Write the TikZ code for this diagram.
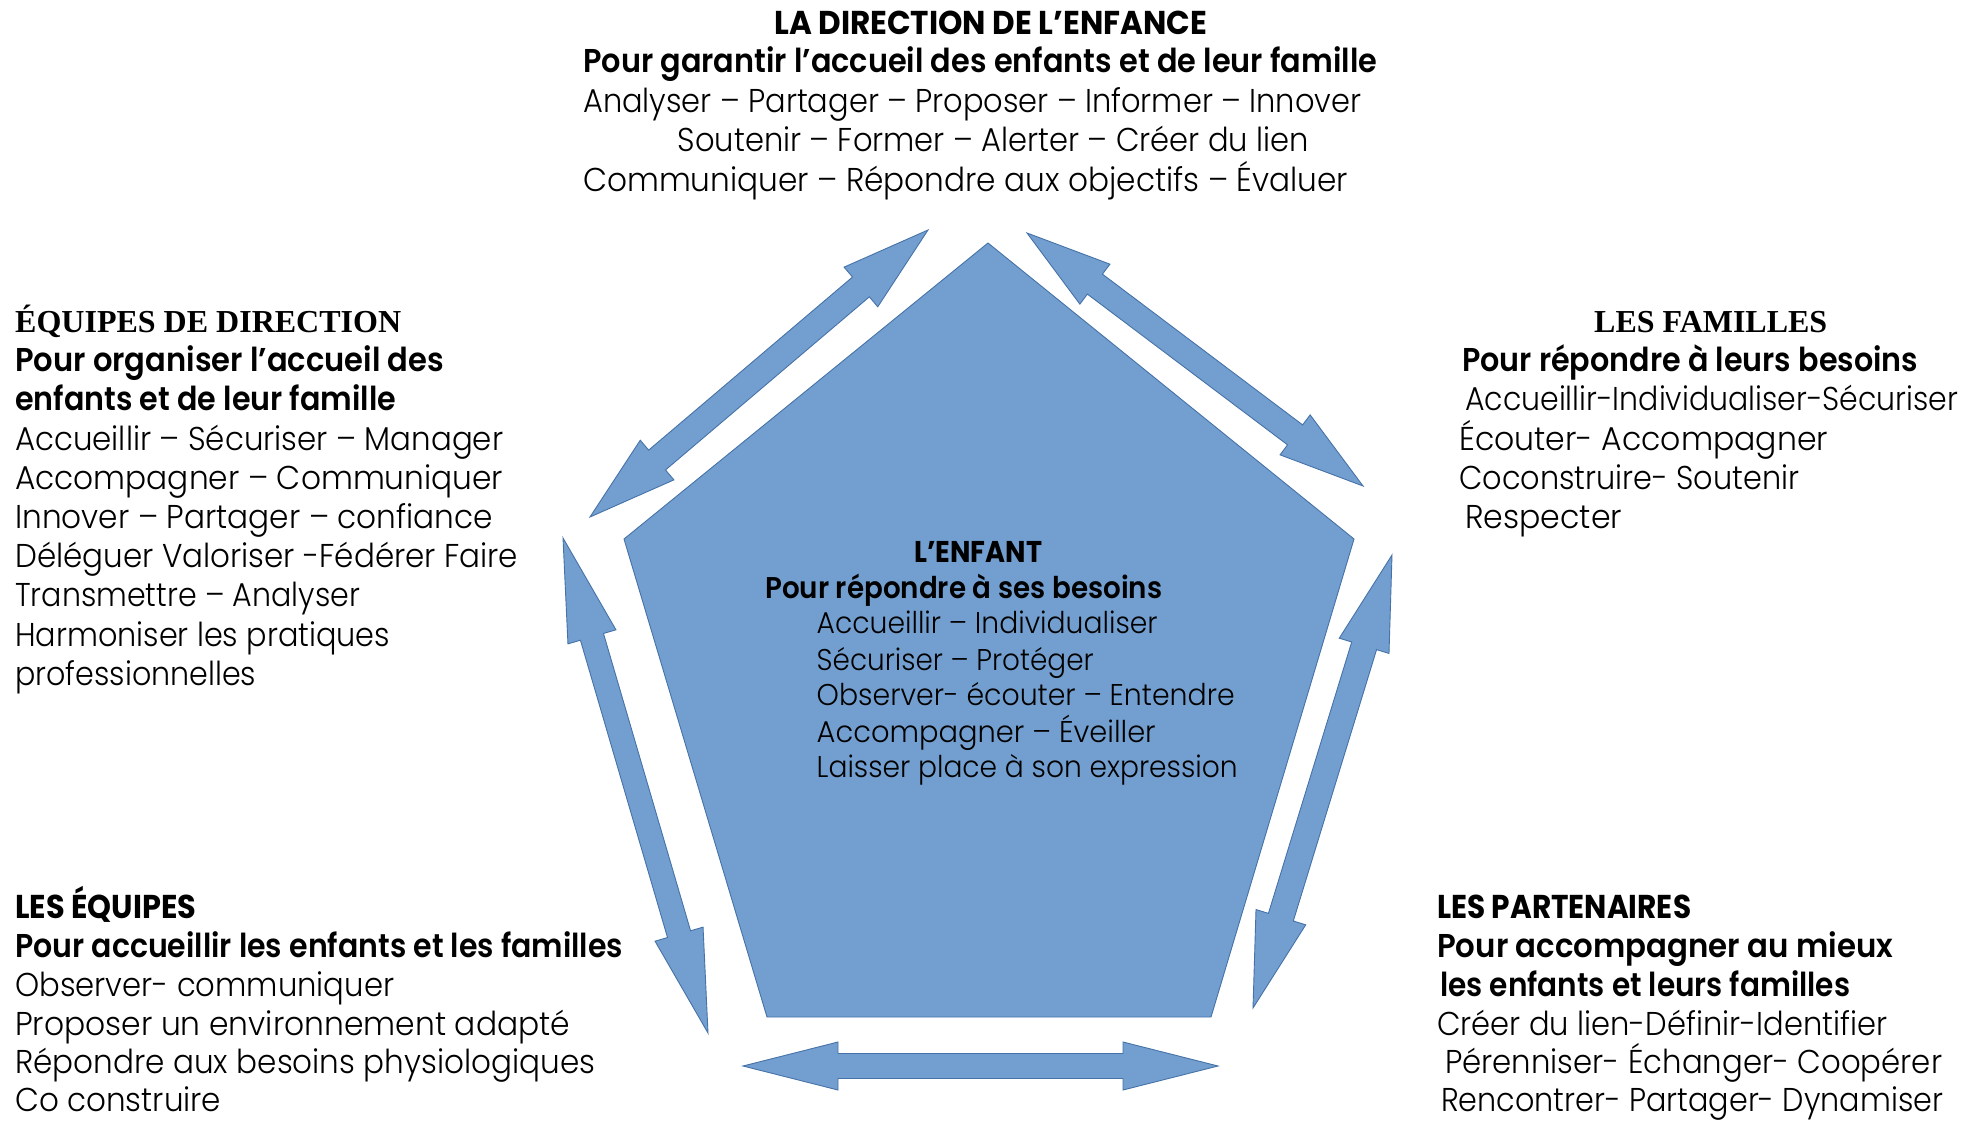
\documentclass[tikz,border=0pt]{standalone}
\usepackage{fontspec}
\usepackage{graphicx}
\IfFontExistsTF{Poppins Light}{%
  \IfFontExistsTF{Poppins SemiBold}{%
    \setmainfont{Poppins}[UprightFont={* Light},BoldFont={* SemiBold}]}{%
    \setmainfont{Poppins}[UprightFont={* Light}]}}{%
  \setmainfont{Poppins}}
\newfontfamily\capsfont{Poppins}
\newfontfamily\timesfont{Liberation Serif}
\usetikzlibrary{calc}
\definecolor{pfill}{RGB}{114,159,207}
\definecolor{pline}{RGB}{70,114,168}
\newsavebox\fwbox
\newlength\fwlen
\newcommand\fw[2]{\sbox\fwbox{#2}\setlength\fwlen{\wd\fwbox}\pgfmathsetmacro\fwfac{#1/\fwlen}\scalebox{\fwfac}[1]{\usebox\fwbox}}
\newcommand\dblarrow[5]{%
  \filldraw[arr] (#1)
   -- ($(#1)!#3!(#2)!#4!90:(#1)$)
   -- ($(#1)!#3!(#2)!#5!90:(#1)$)
   -- ($(#2)!#3!(#1)!#5!-90:(#2)$)
   -- ($(#2)!#3!(#1)!#4!-90:(#2)$)
   -- (#2)
   -- ($(#2)!#3!(#1)!#4!90:(#2)$)
   -- ($(#2)!#3!(#1)!#5!90:(#2)$)
   -- ($(#1)!#3!(#2)!#5!-90:(#1)$)
   -- ($(#1)!#3!(#2)!#4!-90:(#1)$)
   -- cycle;}
\tikzset{
  reg/.style={anchor=base west, inner sep=0pt, font=\fontsize{33}{39}\selectfont},
  bld/.style={anchor=base west, inner sep=0pt, font=\fontsize{33}{39}\selectfont\bfseries},
  capb/.style={anchor=base west, inner sep=0pt, font=\capsfont\fontsize{33}{39}\selectfont\bfseries},
  ser/.style={anchor=base west, inner sep=0pt, font=\timesfont\fontsize{32}{39}\selectfont\bfseries},
  sml/.style={anchor=base west, inner sep=0pt, font=\fontsize{30}{36}\selectfont},
  smlb/.style={anchor=base west, inner sep=0pt, font=\fontsize{30}{36}\selectfont\bfseries},
  smlc/.style={anchor=base west, inner sep=0pt, font=\capsfont\fontsize{30}{36}\selectfont\bfseries},
  arr/.style={fill=pfill, draw=pline, line width=0.9pt, line join=miter},
  penta/.style={fill=pfill, draw=pline, line width=0.9pt, line join=miter},
}
\begin{document}
\begin{tikzpicture}[x=1pt,y=-1pt]
\useasboundingbox[fill=white] (0,0) rectangle (1982,1121);
% central pentagon
\coordinate (pt) at (988,243);
\coordinate (pr) at (1354,539);
\coordinate (pbr) at (1211,1017);
\coordinate (pbl) at (767,1017);
\coordinate (pl) at (624,539);
\filldraw[penta] (pt) -- (pr) -- (pbr) -- (pbl) -- (pl) -- cycle;
% double arrows
\coordinate (a1) at (928,230);  \coordinate (b1) at (590,517);
\coordinate (a2) at (1027,233); \coordinate (b2) at (1363,486);
\coordinate (a3) at (563,538);  \coordinate (b3) at (708,1033);
\coordinate (a4) at (1392,555); \coordinate (b4) at (1253,1008);
\coordinate (a5) at (743,1066); \coordinate (b5) at (1218,1066);
\dblarrow{a1}{b1}{88pt}{26pt}{13pt}
\dblarrow{a2}{b2}{85pt}{25pt}{12.5pt}
\dblarrow{a3}{b3}{103pt}{25pt}{12pt}
\dblarrow{a4}{b4}{95pt}{26pt}{13pt}
\dblarrow{a5}{b5}{95pt}{24pt}{12.5pt}
% top block
\node[capb] (t1) at (774,35) {\fw{433}{LA DIRECTION DE L’ENFANCE}};
\node[bld] (t2) at (583,73) {\fw{794}{Pour garantir l’accueil des enfants et de leur famille}};
\node[reg] (t3) at (583,112.5) {\fw{778}{Analyser – Partager – Proposer – Informer – Innover}};
\node[reg] (t4) at (677.5,151.7) {\fw{631}{Soutenir – Former – Alerter – Créer du lien}};
\node[reg] (t5) at (583,191) {\fw{765}{Communiquer – Répondre aux objectifs – Évaluer}};
% left block
\node[ser] (l1) at (15,332.5) {\fw{386}{ÉQUIPES DE DIRECTION}};
\node[bld] (l2) at (15,371.6) {\fw{429}{Pour organiser l’accueil des}};
\node[bld] (l3) at (15,410.8) {\fw{381}{enfants et de leur famille}};
\node[reg] (l4) at (15,450) {\fw{488}{Accueillir – Sécuriser – Manager}};
\node[reg] (l5) at (15,489) {\fw{488}{Accompagner – Communiquer}};
\node[reg] (l6) at (15,528.4) {\fw{478}{Innover – Partager – confiance}};
\node[reg] (l7) at (15,567.6) {\fw{503}{Déléguer Valoriser -Fédérer Faire}};
\node[reg] (l8) at (15,606.8) {\fw{345}{Transmettre – Analyser}};
\node[reg] (l9) at (15,646) {\fw{375}{Harmoniser les pratiques}};
\node[reg] (l10) at (15,685) {\fw{241}{professionnelles}};
% right block
\node[ser] (r1) at (1594,332.5) {\fw{233}{LES FAMILLES}};
\node[bld] (r2) at (1462,371.6) {\fw{456}{Pour répondre à leurs besoins}};
\node[reg] (r3) at (1465,410.8) {\fw{493}{Accueillir-Individualiser-Sécuriser}};
\node[reg] (r4) at (1459,450) {\fw{369}{Écouter- Accompagner}};
\node[reg] (r5) at (1459,489) {\fw{340}{Coconstruire- Soutenir}};
\node[reg] (r6) at (1465,528.4) {\fw{157}{Respecter}};
% bottom left block
\node[capb] (e1) at (15,918) {\fw{181}{LES ÉQUIPES}};
\node[bld] (e2) at (15,957) {\fw{608}{Pour accueillir les enfants et les familles}};
\node[reg] (e3) at (15,996) {\fw{379}{Observer- communiquer}};
\node[reg] (e4) at (15,1035) {\fw{555}{Proposer un environnement adapté}};
\node[reg] (e5) at (15,1073.5) {\fw{580}{Répondre aux besoins physiologiques}};
\node[reg] (e6) at (15,1111) {\fw{206}{Co construire}};
% bottom right block
\node[capb] (p1) at (1437,918) {\fw{254}{LES PARTENAIRES}};
\node[bld] (p2) at (1437,957) {\fw{456}{Pour accompagner au mieux}};
\node[bld] (p3) at (1440,996) {\fw{410}{les enfants et leurs familles}};
\node[reg] (p4) at (1437,1035) {\fw{450}{Créer du lien-Définir-Identifier}};
\node[reg] (p5) at (1445,1073.5) {\fw{497}{Pérenniser- Échanger- Coopérer}};
\node[reg] (p6) at (1441,1111) {\fw{502}{Rencontrer- Partager- Dynamiser}};
% centre block
\node[smlc] (c1) at (914,562.5) {\fw{128}{L’ENFANT}};
\node[smlb] (c2) at (765,598) {\fw{397}{Pour répondre à ses besoins}};
\node[sml] (c3) at (816.5,633) {\fw{341}{Accueillir – Individualiser}};
\node[sml] (c4) at (816.5,670) {\fw{277}{Sécuriser – Protéger}};
\node[sml] (c5) at (816.5,705) {\fw{418}{Observer- écouter – Entendre}};
\node[sml] (c6) at (816.5,742) {\fw{339}{Accompagner – Éveiller}};
\node[sml] (c7) at (816.5,777) {\fw{421}{Laisser place à son expression}};
\end{tikzpicture}
\end{document}
